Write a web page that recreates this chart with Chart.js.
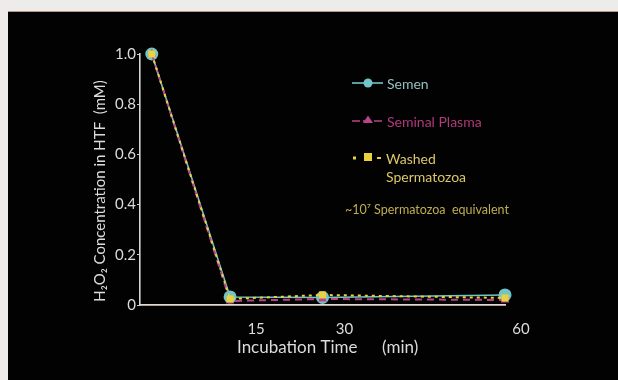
<!DOCTYPE html>
<html>
<head>
<meta charset="utf-8">
<script src="https://cdn.jsdelivr.net/npm/chart.js@4.4.1/dist/chart.umd.min.js"></script>
<style>
  html, body { margin: 0; padding: 0; background: #eeeceb; width: 618px; height: 380px; overflow: hidden; }
  #panel { position: absolute; left: 8px; top: 11px; width: 610px; height: 369px; background: #020202;
           border-top: 1px solid #b99a88; box-sizing: border-box; }
  canvas { position: absolute; left: 0; top: -1px; }
</style>
</head>
<body>
<div id="panel"><canvas id="h2o2Chart" width="610" height="369"></canvas></div>
<script>
// incubation time (min) and H2O2 (mM)
const times = [0, 13.3, 29, 60];
const semen = [1.0, 0.032, 0.03, 0.04];
const seminalPlasma = [1.0, 0.016, 0.024, 0.02];
const washedSperm = [1.0, 0.024, 0.04, 0.028];
const xTickLabels = [15, 30, 60];
const yTickLabels = [0, 0.2, 0.4, 0.6, 0.8, 1.0];

const CYAN = '#72c4c8', MAGENTA = '#b8458a', YELLOW = '#e9d23e';
const FONT = 'Lato, "Open Sans", sans-serif';

function pts(arr) { return arr.map((v, i) => ({ x: times[i], y: v })); }

// legend + axis titles drawn by hand, they sit off-centre like in the slide
const slideText = {
    id: 'slideText',
    afterDraw(chart) {
        const ctx = chart.ctx;
        ctx.save();
        ctx.textBaseline = 'middle';

        // axis titles
        ctx.fillStyle = '#dcdcdc';
        ctx.font = '17px ' + FONT;
        ctx.fillText('Incubation Time', 229, 337);
        ctx.fillText('(min)', 374, 337);
        ctx.save();
        ctx.translate(92, 180);
        ctx.rotate(-Math.PI / 2);
        ctx.textAlign = 'center';
        ctx.font = '15px ' + FONT;
        ctx.fillText('H\u2082O\u2082 Concentration in HTF  (mM)', 0, 0);
        ctx.restore();

        ctx.font = '14px ' + FONT;
        // Semen
        ctx.strokeStyle = CYAN; ctx.lineWidth = 1.6; ctx.setLineDash([]);
        ctx.beginPath(); ctx.moveTo(344, 72); ctx.lineTo(375, 72); ctx.stroke();
        ctx.fillStyle = CYAN; ctx.beginPath(); ctx.arc(360, 72, 4.5, 0, Math.PI * 2); ctx.fill();
        ctx.fillStyle = '#93c0c0'; ctx.fillText('Semen', 379, 73);

        // Seminal Plasma
        ctx.strokeStyle = MAGENTA; ctx.setLineDash([8, 3]);
        ctx.beginPath(); ctx.moveTo(344, 110); ctx.lineTo(375, 110); ctx.stroke();
        ctx.setLineDash([]);
        ctx.fillStyle = MAGENTA; ctx.beginPath();
        ctx.moveTo(360, 104.5); ctx.lineTo(365, 112); ctx.lineTo(355, 112); ctx.closePath(); ctx.fill();
        ctx.fillStyle = '#b03a7c'; ctx.fillText('Seminal Plasma', 379, 111);

        // Washed Spermatozoa
        ctx.fillStyle = YELLOW;
        ctx.fillRect(345, 145.5, 3, 3);
        ctx.fillRect(356, 142, 8, 8);
        ctx.fillRect(369, 146, 4, 2);
        ctx.fillStyle = '#dcc76a';
        ctx.fillText('Washed', 378, 148);
        ctx.fillText('Spermatozoa', 378, 166);

        ctx.font = '12.5px ' + FONT;
        ctx.fillStyle = '#bfae4e';
        ctx.fillText('~10\u2077 Spermatozoa  equivalent', 337, 199);
        ctx.restore();
    }
};

new Chart(document.getElementById('h2o2Chart'), {
    type: 'line',
    data: {
        datasets: [
            {
                label: 'Washed Spermatozoa', data: pts(washedSperm), order: 0,
                borderColor: YELLOW, backgroundColor: YELLOW, borderWidth: 2, borderDash: [3, 4],
                pointStyle: 'rect', pointRadius: 5, pointBorderWidth: 0, clip: false
            },
            {
                label: 'Seminal Plasma', data: pts(seminalPlasma), order: 1,
                borderColor: MAGENTA, backgroundColor: MAGENTA, borderWidth: 2, borderDash: [7, 5],
                pointStyle: 'triangle', pointRadius: 5, pointBorderWidth: 0, clip: false
            },
            {
                label: 'Semen', data: pts(semen), order: 2,
                borderColor: CYAN, backgroundColor: CYAN, borderWidth: 1.6,
                pointStyle: 'circle', pointRadius: 6.5, pointBorderWidth: 0, clip: false
            }
        ]
    },
    options: {
        responsive: false,
        devicePixelRatio: 1,
        animation: false,
        layout: { padding: { left: 84, top: 43, right: 113, bottom: 20 } },
        plugins: { legend: { display: false }, tooltip: { enabled: false } },
        scales: {
            x: {
                type: 'linear', min: -2, max: 60,
                afterFit(scale) { scale.height = 55; },
                afterBuildTicks(scale) { scale.ticks = xTickLabels.map(v => ({ value: v })); },
                grid: { display: false },
                border: { display: true, color: '#e6d6d2', width: 1.8 },
                ticks: { color: '#dcdcdc', padding: 7, labelOffset: 16, font: { family: FONT, size: 15 } }
            },
            y: {
                min: 0, max: 1,
                afterFit(scale) { scale.width = 48; },
                afterBuildTicks(scale) { scale.ticks = yTickLabels.map(v => ({ value: v })); },
                grid: { drawOnChartArea: false, drawTicks: true, tickLength: 3, color: '#cfcfcf' },
                border: { display: true, color: '#d6d6d6', width: 1.6 },
                ticks: { color: '#dcdcdc', padding: 1, font: { family: FONT, size: 15 },
                         callback: v => v === 0 ? '0' : v.toFixed(1) }
            }
        }
    },
    plugins: [slideText]
});
</script>
</body>
</html>
